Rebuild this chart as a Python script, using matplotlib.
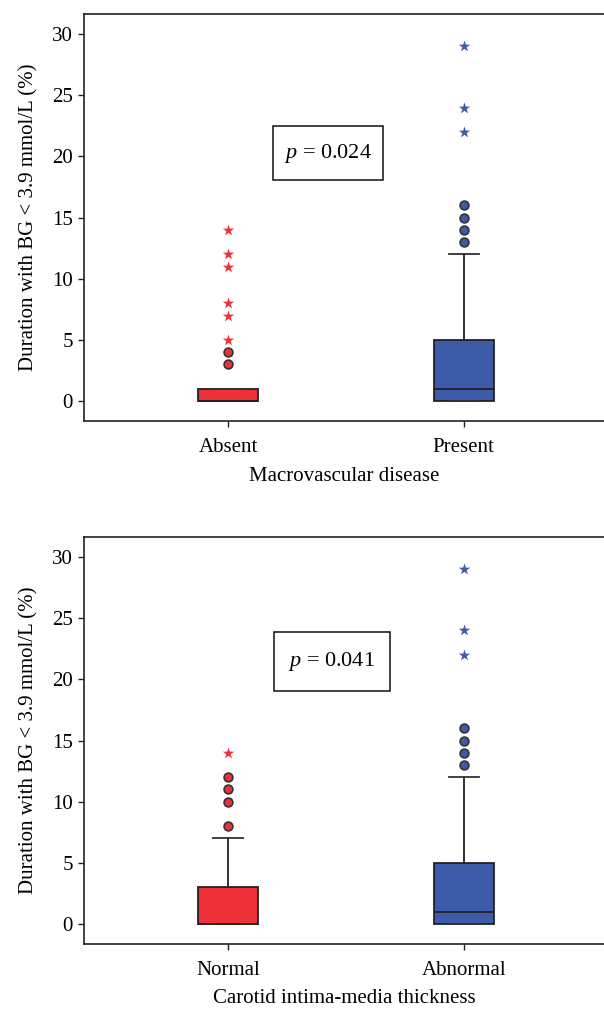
import matplotlib
matplotlib.use("Agg")
import matplotlib.pyplot as plt
from matplotlib.patches import Rectangle

plt.rcParams['font.family'] = ['Liberation Serif', 'DejaVu Serif']
plt.rcParams['mathtext.fontset'] = 'custom'
plt.rcParams['mathtext.it'] = 'Liberation Serif:italic'
plt.rcParams['mathtext.rm'] = 'Liberation Serif'

RED = '#EE3139'
BLUE = '#3E5BA9'

# Top panel: Macrovascular disease
top_categories = ['Absent', 'Present']
top_q1 = [0, 0]
top_median = [0, 1]
top_q3 = [1, 5]
top_whislo = [0, 0]
top_whishi = [1, 12]
top_circles = [[3, 4], [13, 14, 15, 16]]
top_stars = [[5, 7, 8, 11, 12, 14], [22, 24, 29]]
top_p = '0.024'

# Bottom panel: Carotid intima-media thickness
bot_categories = ['Normal', 'Abnormal']
bot_q1 = [0, 0]
bot_median = [0, 1]
bot_q3 = [3, 5]
bot_whislo = [0, 0]
bot_whishi = [7, 12]
bot_circles = [[8, 10, 11, 12], [13, 14, 15, 16]]
bot_stars = [[14], [22, 24, 29]]
bot_p = '0.041'

yticks = [0, 5, 10, 15, 20, 25, 30]
ylabel = 'Duration with BG < 3.9 mmol/L (%)'

fig = plt.figure(figsize=(6.04, 10.10), dpi=100)


def panel(rect, cats, q1, med, q3, wlo, whi, circles, stars, pval, xlabel, pbox):
    ax = fig.add_axes(rect)
    colors = [RED, BLUE]
    stats = []
    for i, c in enumerate(cats):
        stats.append(dict(label=c, q1=q1[i], med=med[i], q3=q3[i],
                          whislo=wlo[i], whishi=whi[i], fliers=[]))
    bp = ax.bxp(stats, positions=[0, 1], widths=0.255, patch_artist=True,
                showfliers=False,
                boxprops=dict(edgecolor='#222222', linewidth=1.3),
                medianprops=dict(color='#222222', linewidth=1.3),
                whiskerprops=dict(color='#222222', linewidth=1.3),
                capprops=dict(color='#333333', linewidth=1.3),
                capwidths=0.128)
    for patch, col in zip(bp['boxes'], colors):
        patch.set_facecolor(col)
    for i in range(len(cats)):
        ax.scatter([i] * len(circles[i]), circles[i], s=40, marker='o',
                   facecolor=colors[i], edgecolor='#333333', linewidth=1.2, zorder=5)
        ax.scatter([i] * len(stars[i]), stars[i], s=75, marker='*',
                   color=colors[i], linewidth=0, zorder=5)
    ax.set_xlim(-0.613, 1.596)
    ax.set_ylim(-1.635, 31.635)
    ax.set_yticks(yticks)
    ax.set_xticks([0, 1])
    ax.set_xticklabels(cats)
    ax.spines['right'].set_visible(False)
    for s in ['left', 'top', 'bottom']:
        ax.spines[s].set_linewidth(1.2)
        ax.spines[s].set_color('#222222')
    ax.tick_params(labelsize=15, length=4, width=1.0, color='#222222', pad=4)
    ax.tick_params(axis='x', pad=8)
    ax.set_ylabel(ylabel, fontsize=15, labelpad=10)
    ax.set_xlabel(xlabel, fontsize=15, labelpad=7)
    x0, x1, y0, y1 = pbox
    ax.add_patch(Rectangle((x0, y0), x1 - x0, y1 - y0, fill=False,
                           edgecolor='#111111', linewidth=1.1, zorder=6))
    ax.text((x0 + x1) / 2, (y0 + y1) / 2, r'$p$ = ' + pval,
            ha='center', va='center', fontsize=16, zorder=7)
    return ax


panel([0.139, 0.583, 0.861, 0.403], top_categories, top_q1, top_median, top_q3,
      top_whislo, top_whishi, top_circles, top_stars, top_p,
      'Macrovascular disease', (0.191, 0.659, 18.07, 22.48))
panel([0.139, 0.0653, 0.861, 0.403], bot_categories, bot_q1, bot_median, bot_q3,
      bot_whislo, bot_whishi, bot_circles, bot_stars, bot_p,
      'Carotid intima-media thickness', (0.195, 0.685, 19.05, 23.87))

fig.savefig('out.png', dpi=100)
